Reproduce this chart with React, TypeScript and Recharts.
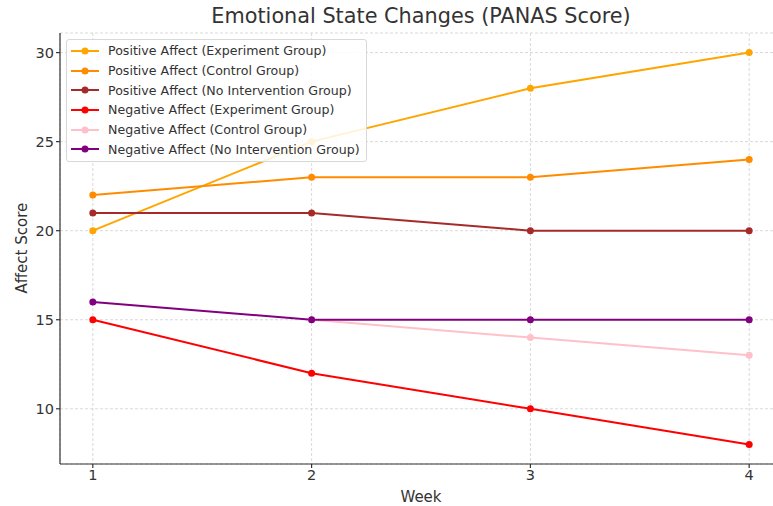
import React from 'react'
import { CartesianGrid, Line, LineChart, XAxis, YAxis } from 'recharts'

const weeks = [1, 2, 3, 4]
const posExperiment = [20, 25, 28, 30]
const posControl = [22, 23, 23, 24]
const posNoIntervention = [21, 21, 20, 20]
const negExperiment = [15, 12, 10, 8]
// no pink segment is visible between weeks 1 and 2
const negControl = [null, 15, 14, 13]
const negNoIntervention = [16, 15, 15, 15]
const yTicks = [10, 15, 20, 25, 30]

const series = [
  { key: 'posExp', name: 'Positive Affect (Experiment Group)', color: '#ffa500', values: posExperiment },
  { key: 'posCtl', name: 'Positive Affect (Control Group)', color: '#ff8c00', values: posControl },
  { key: 'posNo', name: 'Positive Affect (No Intervention Group)', color: '#a52a2a', values: posNoIntervention },
  { key: 'negExp', name: 'Negative Affect (Experiment Group)', color: '#ff0000', values: negExperiment },
  { key: 'negCtl', name: 'Negative Affect (Control Group)', color: '#ffc0cb', values: negControl },
  { key: 'negNo', name: 'Negative Affect (No Intervention Group)', color: '#800080', values: negNoIntervention },
]

const data = weeks.map((w, i) => {
  const row: Record<string, number | null> = { week: w }
  series.forEach((s) => (row[s.key] = s.values[i]))
  return row
})

const FONT = '"DejaVu Sans", sans-serif'
const TEXT = '#333'

// legend drawn as plain html on top of the plot, like matplotlib's upper-left box
function LegendBox() {
  return (
    <div
      style={{
        position: 'absolute',
        left: 66,
        top: 39,
        border: '1px solid #d8d8d8',
        borderRadius: 3,
        background: 'rgba(255,255,255,0.85)',
        padding: '1px 6px 2px 3px',
        fontFamily: FONT,
        fontSize: 12.6,
        color: TEXT,
      }}
    >
      {series.map((s) => (
        <div key={s.key} style={{ display: 'flex', alignItems: 'center', height: 19.7, whiteSpace: 'nowrap' }}>
          <svg width={30} height={10} style={{ marginRight: 8 }}>
            <line x1={1} y1={5} x2={29} y2={5} stroke={s.color} strokeWidth={2} />
            <circle cx={15} cy={5} r={3.5} fill={s.color} />
          </svg>
          <span>{s.name}</span>
        </div>
      ))}
    </div>
  )
}

export default function App() {
  return (
    <div
      style={{
        position: 'absolute',
        left: 0,
        top: 0,
        width: 773,
        height: 506,
        background: '#fff',
        overflow: 'hidden',
      }}
    >
      <div
        style={{
          position: 'absolute',
          left: 60,
          width: 722,
          top: 4,
          textAlign: 'center',
          fontFamily: FONT,
          fontSize: 20.8,
          color: TEXT,
        }}
      >
        Emotional State Changes (PANAS Score)
      </div>
      {/* the original plot runs past the right edge of the picture */}
      <LineChart
        width={783}
        height={506}
        data={data}
        margin={{ top: 33, right: 1, left: 0, bottom: 0 }}
      >
        <CartesianGrid stroke="#cfcfcf" strokeDasharray="3 2" strokeWidth={0.8} />
        <XAxis
          dataKey="week"
          type="number"
          domain={[0.85, 4.15]}
          ticks={weeks}
          allowDataOverflow
          stroke={TEXT}
          strokeWidth={1.2}
          tickSize={4}
          tick={{ fill: TEXT, fontSize: 14.5, fontFamily: FONT }}
          label={{ value: 'Week', position: 'insideBottom', offset: 4, fill: TEXT, fontSize: 15, fontFamily: FONT }}
          height={42}
        />
        <YAxis
          type="number"
          domain={[6.9, 31.1]}
          ticks={yTicks}
          allowDataOverflow
          width={60}
          stroke={TEXT}
          strokeWidth={1.2}
          tickSize={4}
          tick={{ fill: TEXT, fontSize: 14.5, fontFamily: FONT }}
          label={{ value: 'Affect Score', angle: -90, position: 'insideLeft', offset: 22, dy: 45, fill: TEXT, fontSize: 15, fontFamily: FONT }}
        />
        {series.map((s) => (
          <Line
            key={s.key}
            type="linear"
            dataKey={s.key}
            name={s.name}
            stroke={s.color}
            strokeWidth={2}
            dot={{ r: 3.5, fill: s.color, stroke: s.color, strokeWidth: 0 }}
            activeDot={false}
            isAnimationActive={false}
          />
        ))}
      </LineChart>
      <LegendBox />
    </div>
  )
}
